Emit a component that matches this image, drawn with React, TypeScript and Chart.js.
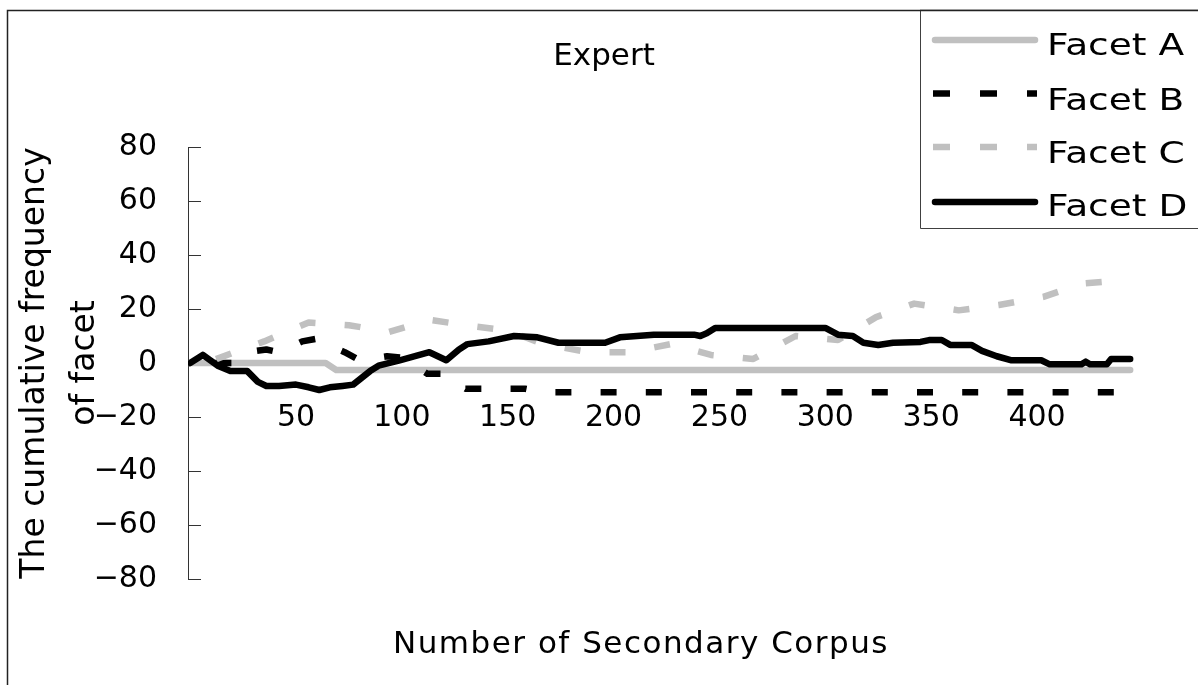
import React, { useEffect, useRef } from 'react';
import { Chart, registerables } from 'chart.js';

Chart.register(...registerables);

const FONT = '"DejaVu Sans", sans-serif';

// ---- data ----
const chartTitle = 'Expert';
const xAxisTitle = 'Number of Secondary Corpus';
const yAxisTitle = ['The cumulative frequency', 'of facet'];
const seriesNames = ['Facet A', 'Facet B', 'Facet C', 'Facet D'];
const xTickValues = [50, 100, 150, 200, 250, 300, 350, 400];
const yTickValues = [-80, -60, -40, -20, 0, 20, 40, 60, 80];

const facetAIdx = [0, 64, 69, 444];
const facetAVal = [0, 0, -2.6, -2.6];

const facetBIdx = [0, 20, 27, 36, 42, 53, 60, 70, 73, 80, 93, 100, 112, 119, 130, 158, 166, 444];
const facetBVal = [0, 0, 4, 5, 4, 8, 9, 5, 4, 1, 2.5, 2, -4, -4, -9.5, -9.5, -10.8, -10.8];

const facetCIdx = [0, 4, 21, 35, 56, 75, 94, 113, 130, 150, 167, 188, 208, 227, 246, 266, 286, 306, 324, 342, 363, 382, 403, 422, 441, 444];
const facetCVal = [0, -1, 4, 8, 15, 14, 11.5, 16, 14, 12, 7, 4, 4, 7, 3, 1.5, 10, 8.5, 17, 22, 19.5, 21.5, 24.5, 29.5, 30.7, 31];

const facetDIdx = [0, 6, 13, 19, 27, 32, 36, 42, 50, 56, 61, 66, 72, 77, 81, 85, 89, 99, 113, 121, 127, 131, 141, 153, 164, 174, 196, 203, 219, 238, 241, 244, 248, 300, 306, 313, 318, 325, 332, 345, 349, 355, 359, 369, 374, 381, 388, 402, 406, 421, 423, 425, 433, 435, 444];
const facetDVal = [0, 3, -1, -3, -3, -7, -8.5, -8.5, -8, -9, -10, -9, -8.5, -8, -5.5, -3, -1, 1, 4, 1, 5, 7, 8, 10, 9.5, 7.5, 7.5, 9.5, 10.5, 10.5, 10, 11, 13, 13, 10.5, 10, 7.5, 6.7, 7.5, 7.8, 8.5, 8.5, 6.7, 6.7, 4.5, 2.5, 1, 1, -0.5, -0.5, 0.5, -0.5, -0.5, 1.5, 1.5];

const toPoints = (xs: number[], ys: number[]) => xs.map((x, i) => ({ x, y: ys[i] }));

// ---- styles ----
const GREY = '#c0c0c0';
const BLACK = '#000000';
const LW = 6.5;
const DASH = [16, 29.2];
const DASH_PERIOD = DASH[0] + DASH[1];
// x positions (in series index units) where a dash should begin, to match the dash phase
const facetBDashAnchor = 172;
const facetCDashAnchor = 401.5;

function dashOffset(chart: any, xs: number[], ys: number[], anchor: number) {
  const sx = chart.scales.x;
  const sy = chart.scales.y;
  let L = 0;
  for (let i = 1; i < xs.length; i++) {
    const x0 = sx.getPixelForValue(xs[i - 1]);
    const y0 = sy.getPixelForValue(ys[i - 1]);
    const x1 = sx.getPixelForValue(xs[i]);
    const y1 = sy.getPixelForValue(ys[i]);
    const seg = Math.hypot(x1 - x0, y1 - y0);
    if (xs[i] >= anchor) {
      const t = (anchor - xs[i - 1]) / (xs[i] - xs[i - 1]);
      L += seg * t;
      break;
    }
    L += seg;
  }
  return (DASH_PERIOD - (L % DASH_PERIOD)) % DASH_PERIOD;
}

const decorPlugin = {
  id: 'decor',
  afterDraw(chart: any) {
    const ctx = chart.ctx as CanvasRenderingContext2D;
    ctx.save();
    // outer frame (top and left edges visible)
    ctx.strokeStyle = '#222';
    ctx.lineWidth = 1.5;
    ctx.beginPath();
    ctx.moveTo(7.5, 685);
    ctx.lineTo(7.5, 10.5);
    ctx.lineTo(1198, 10.5);
    ctx.stroke();

    // x axis title
    (ctx as any).letterSpacing = '1.5px';
    ctx.fillStyle = '#000';
    ctx.font = `31px ${FONT}`;
    ctx.textAlign = 'center';
    ctx.textBaseline = 'alphabetic';
    ctx.fillText(xAxisTitle, 641, 653);
    (ctx as any).letterSpacing = '0px';

    // legend
    ctx.fillStyle = '#fff';
    ctx.fillRect(920, 10, 300, 218);
    ctx.strokeStyle = '#404040';
    ctx.lineWidth = 1;
    ctx.beginPath();
    ctx.moveTo(1198, 228.5);
    ctx.lineTo(920.5, 228.5);
    ctx.lineTo(920.5, 10);
    ctx.stroke();
    ctx.strokeStyle = '#222';
    ctx.lineWidth = 1.5;
    ctx.beginPath();
    ctx.moveTo(920, 10.5);
    ctx.lineTo(1198, 10.5);
    ctx.stroke();

    const lineYs = [40, 93.5, 147, 202];
    const textYs = [55, 110, 163, 216];
    const colors = [GREY, BLACK, GREY, BLACK];
    const dashed = [false, true, true, false];
    seriesNames.forEach((name, i) => {
      ctx.strokeStyle = colors[i];
      ctx.lineWidth = LW;
      ctx.beginPath();
      if (dashed[i]) {
        ctx.setLineDash([17, 30]);
        ctx.lineCap = 'butt';
        ctx.moveTo(933, lineYs[i]);
        ctx.lineTo(1037, lineYs[i]);
      } else {
        ctx.setLineDash([]);
        ctx.lineCap = 'round';
        ctx.moveTo(935, lineYs[i]);
        ctx.lineTo(1035, lineYs[i]);
      }
      ctx.stroke();
      ctx.setLineDash([]);
      ctx.save();
      ctx.translate(1047, textYs[i]);
      ctx.scale(1.25, 1);
      ctx.fillStyle = '#000';
      ctx.font = `30px ${FONT}`;
      ctx.textAlign = 'left';
      ctx.textBaseline = 'alphabetic';
      ctx.fillText(name, 0, 0);
      ctx.restore();
    });
    ctx.restore();
  },
};

export default function App() {
  const ref = useRef<HTMLCanvasElement | null>(null);

  useEffect(() => {
    if (!ref.current) return;
    const chart = new Chart(ref.current, {
      type: 'line',
      data: {
        datasets: [
          {
            label: seriesNames[0],
            data: toPoints(facetAIdx, facetAVal),
            borderColor: GREY,
            borderWidth: LW,
            borderCapStyle: 'round',
            borderJoinStyle: 'round',
            pointRadius: 0,
            tension: 0,
            order: 3,
          },
          {
            label: seriesNames[1],
            data: toPoints(facetBIdx, facetBVal),
            borderColor: BLACK,
            borderWidth: LW,
            borderDash: DASH,
            borderDashOffset: 0,
            borderCapStyle: 'butt',
            borderJoinStyle: 'round',
            pointRadius: 0,
            tension: 0,
            order: 2,
          },
          {
            label: seriesNames[2],
            data: toPoints(facetCIdx, facetCVal),
            borderColor: GREY,
            borderWidth: LW,
            borderDash: DASH,
            borderDashOffset: 0,
            borderCapStyle: 'butt',
            borderJoinStyle: 'round',
            pointRadius: 0,
            tension: 0,
            order: 1,
          },
          {
            label: seriesNames[3],
            data: toPoints(facetDIdx, facetDVal),
            borderColor: BLACK,
            borderWidth: LW,
            borderCapStyle: 'round',
            borderJoinStyle: 'round',
            pointRadius: 0,
            tension: 0,
            order: 0,
          },
        ] as any,
      },
      options: {
        responsive: false,
        maintainAspectRatio: false,
        animation: false,
        layout: { padding: { left: 10, top: 0, right: 0, bottom: 106 } },
        plugins: {
          legend: { display: false },
          tooltip: { enabled: false },
          title: {
            display: true,
            text: chartTitle,
            color: '#000',
            font: { family: FONT, size: 31, weight: 'normal' },
            padding: { top: 38, bottom: 71.8 },
          },
        },
        scales: {
          x: {
            type: 'linear',
            min: -1,
            max: 474.5,
            position: { y: 0 } as any,
            grid: { display: false, drawTicks: false },
            border: { display: false },
            afterBuildTicks: (s: any) => {
              s.ticks = xTickValues.map((v) => ({ value: v }));
            },
            ticks: {
              color: '#000',
              font: { family: FONT, size: 30 },
              padding: 37.5,
              maxRotation: 0,
              autoSkip: false,
            },
          },
          y: {
            type: 'linear',
            position: 'left',
            min: -80,
            max: 80,
            afterBuildTicks: (s: any) => {
              s.ticks = yTickValues.map((v) => ({ value: v }));
            },
            afterFit: (s: any) => {
              s.width = 178;
            },
            grid: {
              drawOnChartArea: false,
              drawTicks: true,
              tickLength: -13,
              color: '#333',
              lineWidth: 1,
            },
            border: { display: true, color: '#333', width: 1 },
            ticks: {
              color: '#000',
              font: { family: FONT, size: 30 },
              padding: 44,
              callback: (v: any) => (v < 0 ? '\u2212' + Math.abs(v) : String(v)),
            },
            title: {
              display: true,
              text: yAxisTitle,
              color: '#000',
              font: { family: FONT, size: 33, lineHeight: 50 / 33 },
              padding: { top: 0, bottom: 0 },
            },
          },
        },
      } as any,
      plugins: [decorPlugin],
    });
    // align dash phase of the dashed series using the library's scales
    const ds = chart.data.datasets as any[];
    ds[1].borderDashOffset = dashOffset(chart, facetBIdx, facetBVal, facetBDashAnchor);
    ds[2].borderDashOffset = dashOffset(chart, facetCIdx, facetCVal, facetCDashAnchor);
    chart.update('none');
    return () => chart.destroy();
  }, []);

  return (
    <canvas
      ref={ref}
      width={1198}
      height={685}
      style={{ position: 'fixed', left: 0, top: 0, width: 1198, height: 685, background: '#fff' }}
    />
  );
}
